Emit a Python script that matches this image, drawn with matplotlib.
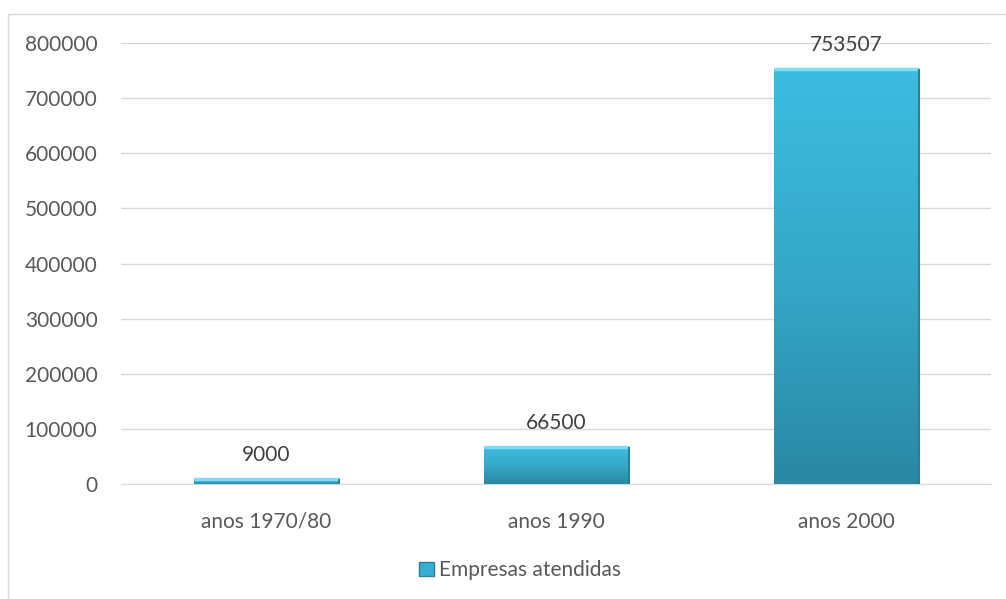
import numpy as np
import matplotlib.pyplot as plt
from matplotlib.patches import Rectangle
from matplotlib.colors import LinearSegmentedColormap

categories = ['anos 1970/80', 'anos 1990', 'anos 2000']
empresas = [9000, 66500, 753507]
series_name = 'Empresas atendidas'
yticks = [0, 100000, 200000, 300000, 400000, 500000, 600000, 700000, 800000]

plt.rcParams['font.family'] = ['Lato', 'DejaVu Sans']
txt = '#595959'

fig = plt.figure(figsize=(10.06, 5.99), dpi=100)
ax = fig.add_axes([0.1203, 0.192, 0.8648, 0.7362])

# chart border
fig.patches.append(Rectangle((0.008, -0.01), 1.0, 0.987, transform=fig.transFigure,
                             fill=False, edgecolor='#D9D9D9', lw=1.0))

cmap = LinearSegmentedColormap.from_list('bar', ['#2A88A3', '#35A8C9', '#3DBCE0'])
x = np.arange(len(categories))
bars = ax.bar(x, empresas, width=0.5, color='#37AFD2', edgecolor='none', zorder=3)
for b in bars:
    bx, by = b.get_x(), b.get_y()
    w, h = b.get_width(), b.get_height()
    grad = np.linspace(0, 1, 256).reshape(-1, 1)
    im = ax.imshow(grad, extent=[bx, bx + w, by, by + h], origin='lower', cmap=cmap,
                   aspect='auto', zorder=4)
    im.set_clip_path(b)
    # bevel highlight on top edge
    ax.plot([bx, bx + w], [by + h, by + h], color='#7FDDF5', lw=2.5, zorder=5,
            solid_capstyle='butt')
    ax.plot([bx + w, bx + w], [by, by + h], color='#2A7E96', lw=1.5, zorder=5,
            solid_capstyle='butt')

for xi, v in zip(x, empresas):
    ax.annotate(str(v), (xi, v), xytext=(0, 10), textcoords='offset points',
                ha='center', va='bottom', fontsize=15, color='#404040', zorder=6)

ax.set_xlim(-0.5, 2.5)
ax.set_ylim(0, 800000)
ax.set_yticks(yticks)
ax.set_yticklabels([str(t) for t in yticks])
ax.set_xticks(x)
ax.set_xticklabels(categories)
ax.yaxis.grid(True, color='#D9D9D9', lw=1)
ax.set_axisbelow(True)
for s in ['top', 'right', 'left']:
    ax.spines[s].set_visible(False)
ax.spines['bottom'].set_color('#D9D9D9')
ax.tick_params(axis='both', length=0, labelsize=15, colors=txt)
ax.tick_params(axis='y', pad=17)
ax.tick_params(axis='x', pad=20)

handle = Rectangle((0, 0), 1, 1, facecolor='#37AFD2', edgecolor='#2A7E96')
fig.legend([handle], [series_name], loc='center', bbox_to_anchor=(0.517, 0.048),
           frameon=False, fontsize=15, labelcolor=txt, handlelength=0.7,
           handleheight=0.7, handletextpad=0.25)

fig.savefig('out.png', dpi=100)
